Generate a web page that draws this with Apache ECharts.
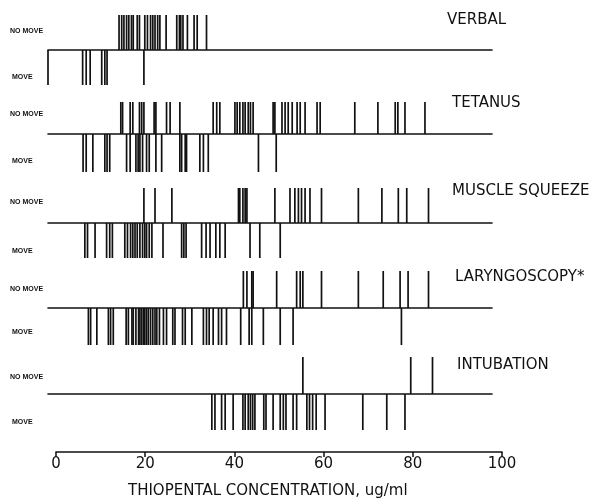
<!DOCTYPE html>
<html>
<head>
<meta charset="utf-8">
<script src="https://cdn.jsdelivr.net/npm/echarts@6/dist/echarts.min.js"></script>
<style>html,body{margin:0;padding:0;background:#fff}#c{width:605px;height:499px}</style>
</head>
<body>
<div id="c"></div>
<script>
const categories = ['VERBAL', 'TETANUS', 'MUSCLE SQUEEZE', 'LARYNGOSCOPY*', 'INTUBATION'];
const xTicks = [0, 20, 40, 60, 80, 100];
const xTitle = 'THIOPENTAL CONCENTRATION, ug/ml';

const verbalNoMove = [16, 16.6, 17.1, 17.7, 18.2, 18.8, 19.2, 20.1, 20.6, 21.8, 22.4, 23.1, 23.6, 24.1, 24.7, 25.2, 26.6, 29, 29.6, 29.9, 30.4, 31.4, 32.9, 33.6, 35.7];
const verbalMove = [0, 7.8, 8.6, 9.5, 12.1, 12.8, 13.3, 21.6];

const tetanusNoMove = [16.4, 16.8, 18.5, 19.1, 20.6, 21.1, 21.6, 23.9, 24.3, 26.7, 27.5, 29.7, 37.2, 38, 38.7, 42.1, 42.6, 43.2, 43.9, 44.4, 45.1, 45.6, 46.2, 50.7, 51.1, 52.7, 53.4, 54.1, 55, 56.1, 56.8, 57.9, 60.6, 61.3, 69.1, 74.3, 78.2, 78.8, 80.4, 84.9];
const tetanusMove = [7.9, 8.6, 10.1, 12.8, 13.3, 13.9, 17.7, 18.5, 19.8, 20.3, 20.7, 21.3, 22.2, 22.8, 24.3, 25.6, 29.7, 30.1, 30.9, 31.2, 34.2, 35, 36.1, 47.4, 51.4];

const squeezeNoMove = [21.6, 24.1, 27.9, 42.9, 43.2, 43.9, 44.4, 44.8, 51.1, 54.5, 55.6, 56.4, 57.1, 57.9, 59, 61.6, 69.9, 75.2, 78.9, 80.8, 85.7];
const squeezeMove = [8.3, 8.9, 10.6, 13.2, 13.9, 14.5, 17.3, 17.9, 18.6, 19.1, 19.6, 20.1, 20.7, 21.3, 21.8, 22.2, 22.8, 23.4, 25.9, 30.1, 30.6, 31.1, 34.6, 35.6, 36.5, 37.8, 38.7, 39.9, 45.5, 47.7, 52.3];

const laryngNoMove = [44, 44.8, 45.9, 46.2, 51.5, 56, 56.8, 57.4, 61.6, 69.9, 75.5, 79.3, 81.1, 85.7];
const laryngMove = [9.1, 9.6, 11, 13.6, 14.1, 14.7, 17.6, 18.1, 18.9, 19.2, 19.8, 20.4, 20.7, 21.1, 21.5, 21.8, 22.2, 22.6, 23.1, 23.6, 24.1, 24.5, 25.1, 26, 26.7, 28.1, 28.6, 30.3, 30.9, 32.4, 35, 35.7, 36.3, 37.2, 38.4, 39.1, 40.2, 43.4, 45.3, 45.9, 48.5, 52.3, 55.2, 79.6];

const intubNoMove = [57.4, 81.7, 86.6];
const intubMove = [36.9, 37.6, 39.1, 39.9, 41.7, 43.9, 44.4, 45.1, 45.6, 46.1, 46.6, 48.6, 49.1, 50.7, 52.3, 53, 53.6, 55.2, 56, 58.3, 58.9, 59.6, 60.4, 62.4, 70.9, 76.3, 80.4];

const noMoveSets = [verbalNoMove, tetanusNoMove, squeezeNoMove, laryngNoMove, intubNoMove];
const moveSets = [verbalMove, tetanusMove, squeezeMove, laryngMove, intubMove];

// layout: [baseline y, top of no-move ticks, bottom of move ticks]
const panelGeom = [[50, 15, 85], [134, 102, 172], [223, 188, 258], [308, 271, 345], [394, 357, 430]];
const titleGeom = [[447, 22], [452, 105], [452, 193], [455, 279], [457, 367]];
const noMoveLblY = [32, 115, 203, 290, 378];
const moveLblY = [78, 162, 252, 333, 423];

const chart = echarts.init(document.getElementById('c'), null, {renderer: 'canvas'});
const FONT = 'Liberation Sans';
const TFONT = 'DejaVu Sans';

function renderTick(params, api) {
  const v = api.value(0), d = api.value(1);
  const p0 = api.coord([v, 0]);
  const p1 = api.coord([v, d]);
  return {type: 'line', shape: {x1: p0[0], y1: p0[1], x2: p1[0], y2: p1[1]},
    style: {stroke: '#111', lineWidth: 1.7}};
}

const grid = [], xAxis = [], yAxis = [], series = [], graphic = [];
panelGeom.forEach((g, i) => {
  const [base, top, bottom] = g;
  const up = base - top, down = bottom - base;
  grid.push({left: 48, right: 113, top: top, height: bottom - top});
  xAxis.push({type: 'value', gridIndex: i, min: 0, max: 100,
    axisLine: {show: true, onZero: true, lineStyle: {color: '#111', width: 1.6}},
    axisTick: {show: false}, axisLabel: {show: false}, splitLine: {show: false}});
  yAxis.push({type: 'value', gridIndex: i, min: -down, max: up, show: false});
  series.push({type: 'custom', xAxisIndex: i, yAxisIndex: i, clip: false,
    renderItem: renderTick, data: noMoveSets[i].map(v => [v, up]), silent: true});
  series.push({type: 'custom', xAxisIndex: i, yAxisIndex: i, clip: false,
    renderItem: renderTick, data: moveSets[i].map(v => [v, -down]), silent: true});
  graphic.push({type: 'text', left: titleGeom[i][0], top: titleGeom[i][1] - 9,
    style: {text: categories[i], font: '15px "' + TFONT + '"', fill: '#111'}});
  graphic.push({type: 'text', left: 10, top: noMoveLblY[i] - 4,
    style: {text: 'NO MOVE', font: 'bold 7px ' + FONT, fill: '#111'}});
  graphic.push({type: 'text', left: 12, top: moveLblY[i] - 4,
    style: {text: 'MOVE', font: 'bold 7px ' + FONT, fill: '#111'}});
});

// bottom concentration axis
grid.push({left: 56, right: 103, top: 440, height: 12});
xAxis.push({type: 'value', gridIndex: 5, min: 0, max: 100, interval: 20,
  axisLine: {show: true, onZero: false, lineStyle: {color: '#111', width: 1.6}},
  axisTick: {show: true, length: 5, inside: false, lineStyle: {color: '#111', width: 1.5}},
  axisLabel: {show: true, margin: 5, color: '#111', fontSize: 15, fontFamily: TFONT,
    customValues: xTicks, formatter: v => String(v)},
  splitLine: {show: false}});
yAxis.push({type: 'value', gridIndex: 5, min: 0, max: 1, show: false});

graphic.push({type: 'text', left: 128, top: 484,
  style: {text: xTitle, font: '15px "' + TFONT + '"', fill: '#111'}});

chart.setOption({
  animation: false,
  backgroundColor: '#fff',
  grid, xAxis, yAxis, series, graphic
});
</script>
</body>
</html>
